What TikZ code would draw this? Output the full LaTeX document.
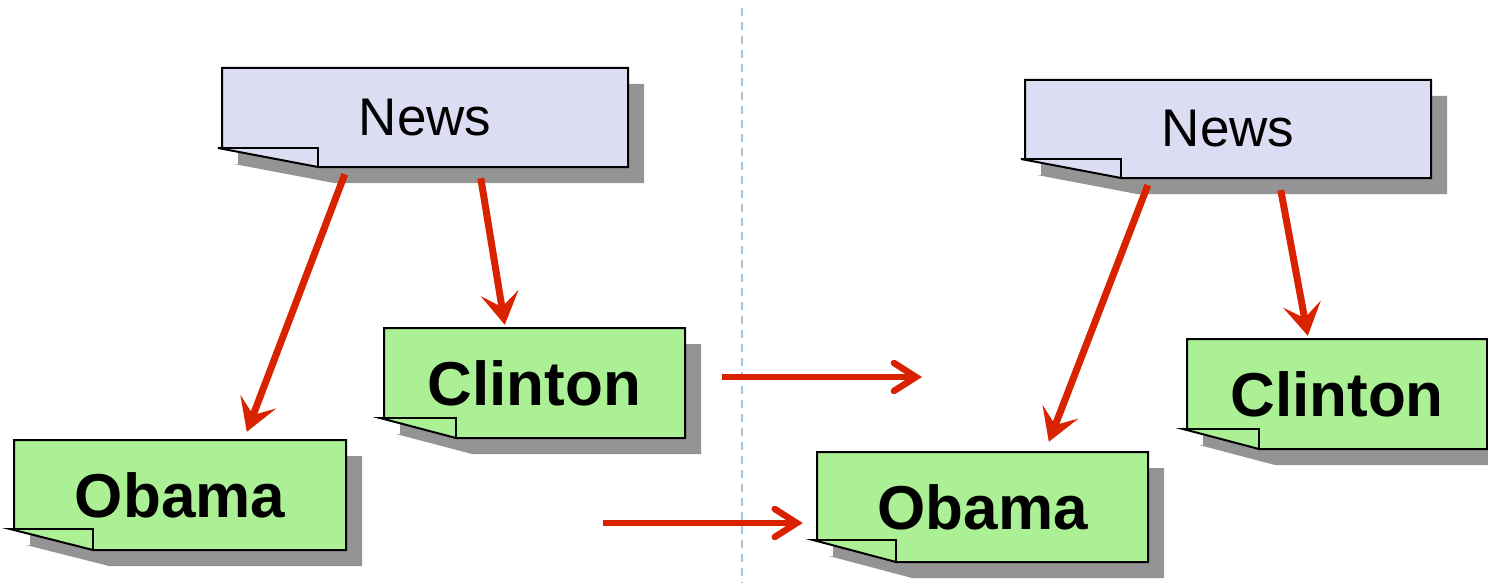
\documentclass[tikz,border=0pt]{standalone}
\usepackage{fontspec}
\setmainfont{Liberation Sans}
\usetikzlibrary{arrows.meta,calc,fit}

\definecolor{newsfill}{HTML}{DCDCF2}
\definecolor{topicfill}{HTML}{ACF096}
\definecolor{shadowgray}{HTML}{949494}
\definecolor{linkred}{HTML}{D92200}
\definecolor{divider}{HTML}{A4C4DE}

\tikzset{
  outline/.style={draw=black, line width=2pt, line join=miter},
  news card/.style={fill=newsfill},
  topic card/.style={fill=topicfill},
  news text/.style={font=\fontsize{53}{60}\selectfont},
  topic text/.style={font=\fontsize{62}{70}\selectfont\bfseries},
  link/.style={draw=linkred, line width=7pt,
    -{Stealth[length=32pt,width=38pt,inset=14pt]}},
  flow/.style={draw=linkred, line width=6.5pt,
    -{Straight Barb[length=22pt,width=28pt,line cap=round]}},
  divline/.style={draw=divider, line width=2.4pt, dash pattern=on 8pt off 6pt},
}

% Sticky note with a folded bottom-left corner and a drop shadow.
% #1 name, #2 kind (news/topic), #3,#4 top-left, #5,#6 bottom-right,
% #7 x where the fold meets the bottom edge, #8 y of the fold crease, #9 text
\newcommand{\notecard}[9]{%
  \fill[shadowgray, shift={(16,16)}]
    (#3,#4) -- (#5,#4) -- (#5,#6) -- (#7,#6) -- (#3-4,#8) -- (#3,#8) -- cycle;
  \path[outline, #2 card]
    (#3,#4) -- (#5,#4) -- (#5,#6) -- (#7,#6) -- (#3-4,#8) -- (#3,#8) -- cycle;
  \draw[outline] (#3-4,#8) -- (#7,#8) -- (#7,#6);
  \node[fit={(#3,#4) (#5,#6)}, inner sep=0pt] (#1) {};
  \node[#2 text, inner sep=0pt] (#1 label) at (#1.center) {#9};
}

\begin{document}
\begin{tikzpicture}[x=1pt, y=-1pt]
  \useasboundingbox (0,0) rectangle (1488,583);
  \clip (0,0) rectangle (1488,583);

  % divider between the two states
  \draw[divline] (742,8) -- (742,583);

  % left state
  \notecard{news1}{news}{222}{68}{628}{167}{318}{148}{News}
  \notecard{clinton1}{topic}{384}{328}{685}{438}{456}{418}{Clinton}
  \notecard{obama1}{topic}{14}{440}{346}{550}{93}{529}{Obama}

  % right state
  \notecard{news2}{news}{1025}{80}{1431}{178}{1121}{159}{News}
  \notecard{clinton2}{topic}{1187}{339}{1487}{449}{1259}{429}{Clinton}
  \notecard{obama2}{topic}{817}{452}{1148}{562}{896}{540}{Obama}

  % hierarchy links
  \draw[link] ($(news1.south west)+(123,7)$) -- ($(obama1.north west)+(233,-8)$);
  \draw[link] ($(news1.south west)+(259,11)$) -- ($(clinton1.north west)+(121,-3)$);
  \draw[link] ($(news2.south west)+(123,7)$) -- ($(obama2.north west)+(232,-10)$);
  \draw[link] ($(news2.south west)+(256,12)$) -- ($(clinton2.north west)+(121,-3)$);

  % transition arrows
  \coordinate (h1a) at (722,377);
  \coordinate (h1b) at (922,377);
  \coordinate (h2a) at (603,523);
  \draw[flow] (h1a) -- (h1b);
  \draw[flow] (h2a) -- ($(obama2.west)+(-14,16)$);
\end{tikzpicture}
\end{document}
